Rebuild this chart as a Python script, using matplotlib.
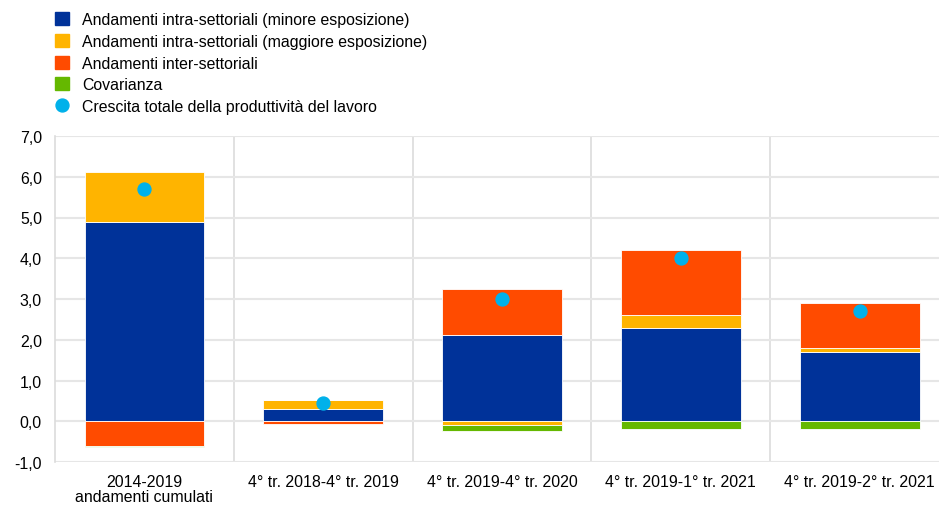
import numpy as np
import matplotlib
matplotlib.use("Agg")
import matplotlib.pyplot as plt
from matplotlib.patches import Patch
from matplotlib.lines import Line2D

plt.rcParams['font.family'] = ['Liberation Sans', 'DejaVu Sans']

categories = ['2014-2019\nandamenti cumulati', '4° tr. 2018-4° tr. 2019',
              '4° tr. 2019-4° tr. 2020', '4° tr. 2019-1° tr. 2021',
              '4° tr. 2019-2° tr. 2021']
intra_minore = [4.88, 0.29, 2.11, 2.28, 1.69]
intra_maggiore = [1.23, 0.23, -0.08, 0.32, 0.10]
inter = [-0.61, -0.07, 1.13, 1.60, 1.10]
covarianza = [-0.01, 0.0, -0.17, -0.19, -0.19]
totale = [5.69, 0.45, 2.99, 4.00, 2.71]

labels = ['Andamenti intra-settoriali (minore esposizione)',
          'Andamenti intra-settoriali (maggiore esposizione)',
          'Andamenti inter-settoriali',
          'Covarianza',
          'Crescita totale della produttività del lavoro']
colors = ['#003299', '#FFB400', '#FF4B00', '#65B800']
dot_color = '#00B1EA'
fs = 11.4

fig = plt.figure(figsize=(9.39, 5.06), dpi=100)
ax = fig.add_axes([55 / 939, 43 / 506, 1 - 55 / 939, 326 / 506])

x = np.arange(len(categories))
pos = np.zeros(len(x))
neg = np.zeros(len(x))
for series, c in zip([intra_minore, intra_maggiore, inter, covarianza], colors):
    v = np.array(series)
    bottom = np.where(v >= 0, pos, neg)
    ax.bar(x, v, 0.67, bottom=bottom, color=c, edgecolor='#ffffff',
           linewidth=0.6, zorder=3)
    pos = pos + np.where(v >= 0, v, 0)
    neg = neg + np.where(v < 0, v, 0)

ax.plot(x, totale, 'o', color=dot_color, markersize=9.3, zorder=4)

ax.set_ylim(-1, 7)
ax.set_xlim(-0.5, 4.444)
ax.set_yticks(np.arange(-1, 8, 1))
ax.set_yticklabels([('%.1f' % t).replace('.', ',') for t in np.arange(-1, 8, 1)])
ax.set_xticks(x)
ax.set_xticklabels(categories, linespacing=0.95)
ax.yaxis.grid(True, color='#e6e6e6', linewidth=1.5, zorder=0)
for b in np.arange(0.5, 4, 1):
    ax.axvline(b, color='#dcdcdc', linewidth=1.2, zorder=0)

for s in ['top', 'right', 'bottom']:
    ax.spines[s].set_visible(False)
ax.spines['left'].set_color('#dcdcdc')
ax.spines['left'].set_linewidth(1.2)
ax.tick_params(length=0, labelsize=fs, colors='#000000')
ax.tick_params(axis='y', pad=9.4)
ax.tick_params(axis='x', pad=9)

handles = [Patch(color=c) for c in colors]
handles.append(Line2D([], [], marker='o', linestyle='none', color=dot_color,
                      markersize=9.3))
fig.legend(handles, labels, loc='upper left', bbox_to_anchor=(49 / 939, 1 - 7 / 506),
           frameon=False, fontsize=fs, handlelength=0.89, handleheight=0.89,
           handletextpad=0.82, labelspacing=0.42, borderaxespad=0)

fig.savefig('out.png', dpi=100)
